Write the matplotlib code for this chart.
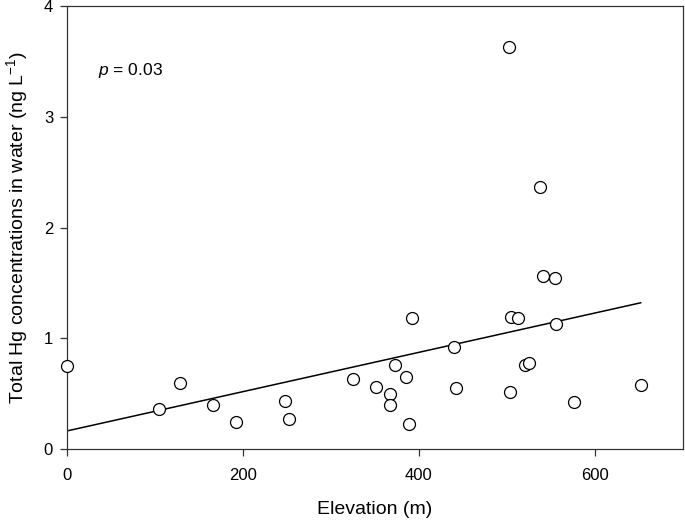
import matplotlib
matplotlib.use("Agg")
import matplotlib.pyplot as plt
import numpy as np

plt.rcParams['font.family'] = ['Liberation Sans', 'DejaVu Sans']
plt.rcParams['mathtext.fontset'] = 'custom'
plt.rcParams['mathtext.rm'] = 'Liberation Sans'
plt.rcParams['mathtext.it'] = 'Liberation Sans:italic'

elevation = [0, 104.5, 128.8, 166, 191.6, 247.7, 252.6, 325, 350.8, 367.4,
             366.7, 372.7, 384.8, 388.6, 391.7, 439.8, 442.4, 503, 505, 512.5,
             520.8, 525.4, 556, 575.8, 651.9, 502.7, 538, 541, 554.5]
total_hg = [0.75, 0.36, 0.60, 0.40, 0.244, 0.43, 0.274, 0.63, 0.563, 0.50,
            0.40, 0.758, 0.65, 0.223, 1.183, 0.921, 0.554, 0.512, 1.195, 1.18,
            0.761, 0.779, 1.126, 0.42, 0.58, 3.633, 2.368, 1.562, 1.541]
fit_intercept = 0.163
fit_slope = 0.001775
p_label = "= 0.03"

fig = plt.figure(figsize=(6.85, 5.23), dpi=100)
ax = fig.add_axes([67/685, 74/523, 616/685, 443/523])

xs = np.array([0, max(elevation)])
ax.plot(xs, fit_intercept + fit_slope * xs, color='black', lw=1.1, zorder=2)
ax.plot(elevation, total_hg, linestyle='none', marker='o', ms=8.6,
        mfc='white', mec='black', mew=0.9, zorder=3, clip_on=False)

ax.set_xlim(0, 700)
ax.set_ylim(0, 4)
ax.set_xticks([0, 200, 400, 600])
ax.set_yticks([0, 1, 2, 3, 4])
ax.tick_params(axis='both', direction='out', length=5, width=0.9,
               labelsize=12, color='#333333')
ax.tick_params(axis='x', pad=9)
ax.tick_params(axis='y', pad=5)
for s in ax.spines.values():
    s.set_linewidth(0.9)
    s.set_color('#333333')

ax.set_xlabel('Elevation (m)', fontsize=14, labelpad=13)
ax.set_ylabel(r'Total Hg concentrations in water (ng L$^{-1}$)', fontsize=14, labelpad=10)
ax.text(35, 3.416, r'$\it{p}$ ' + p_label, fontsize=12.5, va='center', ha='left')

fig.savefig('out.png', dpi=100)
